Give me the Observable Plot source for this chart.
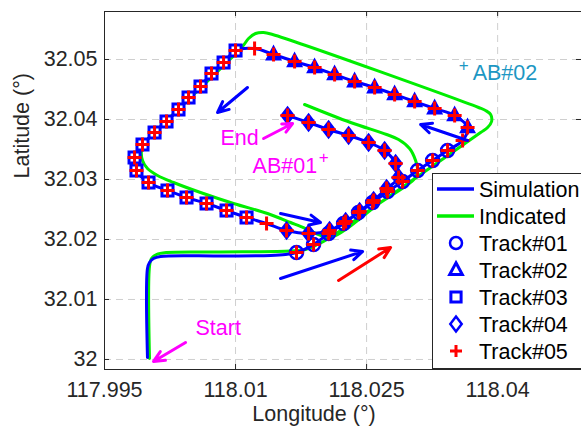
<!DOCTYPE html>
<html><head><meta charset="utf-8">
<script src="https://cdn.jsdelivr.net/npm/d3@7"></script>
<script src="https://cdn.jsdelivr.net/npm/@observablehq/plot@0.6"></script>
<style>html,body{margin:0;padding:0;background:#fff;} #chart{width:581px;height:430px;overflow:hidden;}</style>
</head><body><div id="chart"></div>
<script>
// ---------- axes ----------
const xTicks = [117.995, 118.01, 118.025, 118.04];
const xTickLabels = ["117.995", "118.01", "118.025", "118.04"];
const yTicks = [32, 32.01, 32.02, 32.03, 32.04, 32.05];
const yTickLabels = ["32", "32.01", "32.02", "32.03", "32.04", "32.05"];
const xDomain = [117.995, 118.0496];
const yDomain = [31.99833, 32.058];
const xLabel = "Longitude (°)";
const yLabel = "Latitude (°)";

// ---------- tracks ----------
const track01Lon = [118.01698, 118.01893, 118.02065, 118.02237, 118.02408, 118.02569, 118.02740, 118.02912, 118.03084, 118.03256, 118.03427];
const track01Lat = [32.01783, 32.01917, 32.02100, 32.02267, 32.02450, 32.02617, 32.02800, 32.02967, 32.03150, 32.03317, 32.03483];
const track02Lon = [118.03656, 118.03508, 118.03279, 118.03050, 118.02821, 118.02592, 118.02363, 118.02134, 118.01905, 118.01676, 118.01435];
const track02Lat = [32.03867, 32.04067, 32.04183, 32.04300, 32.04417, 32.04533, 32.04633, 32.04750, 32.04867, 32.04967, 32.05083];
const track03Lon = [118.01000, 118.00863, 118.00725, 118.00599, 118.00462, 118.00347, 118.00210, 118.00073, 117.99935, 117.99844, 117.99866, 118.00004, 118.00221, 118.00439, 118.00668, 118.00897, 118.01126];
const track03Lat = [32.05150, 32.04950, 32.04767, 32.04550, 32.04367, 32.04167, 32.03967, 32.03783, 32.03583, 32.03367, 32.03150, 32.02950, 32.02817, 32.02700, 32.02600, 32.02483, 32.02367];
const track04Lon = [118.01584, 118.01836, 118.02076, 118.02260, 118.02420, 118.02580, 118.02729, 118.02866, 118.02832, 118.02706, 118.02523, 118.02294, 118.02065, 118.01836, 118.01595];
const track04Lat = [32.02150, 32.02100, 32.02150, 32.02300, 32.02467, 32.02650, 32.02850, 32.03033, 32.03267, 32.03483, 32.03617, 32.03733, 32.03833, 32.03950, 32.04067];
// Track#05 points between the other tracks
const handoverLon = [118.03599, 118.01218, 118.01355];
const handoverLat = [32.03650, 32.05183, 32.02267];

// Simulation: straight run from the start before the first track
const simStartLon = [117.99992, 117.99992, 118.00015, 118.00061, 118.00141, 118.00828, 118.01401, 118.01572];
const simStartLat = [32.00033, 32.01517, 32.01617, 32.01683, 32.01717, 32.01725, 32.01733, 32.01750];

// Indicated route
const indicatedLon = [118.00015, 118.00015, 118.00038, 118.00095, 118.00210, 118.00828, 118.01630, 118.01801, 118.01939, 118.02065,
  118.02660, 118.03233, 118.03805, 118.03885, 118.03931, 118.03920, 118.03862, 118.03782,
  118.01424, 118.01321, 118.01229, 118.01149, 118.01080,
  118.00027, 117.99958, 117.99924, 117.99935, 117.99992, 118.00107, 118.00290, 118.00599, 118.00977, 118.01366, 118.01630, 118.01801, 118.01950, 118.02088,
  118.02660, 118.03050, 118.03084, 118.03061, 118.02992, 118.02866, 118.02729, 118.02317, 118.01790];
const indicatedLat = [32.00017, 32.01550, 32.01683, 32.01750, 32.01783, 32.01792, 32.01808, 32.01833, 32.01917, 32.02017,
  32.02617, 32.03200, 32.03783, 32.03867, 32.03967, 32.04083, 32.04150, 32.04200,
  32.05417, 32.05450, 32.05433, 32.05350, 32.05217,
  32.03717, 32.03600, 32.03483, 32.03317, 32.03183, 32.03067, 32.02950, 32.02783, 32.02600, 32.02433, 32.02283, 32.02183, 32.02083, 32.02033,
  32.02617, 32.03017, 32.03150, 32.03317, 32.03517, 32.03667, 32.03750, 32.03950, 32.04250];

// ---------- annotations ----------
const arrowLon1 = [118.01137, 118.03656, 118.01515, 118.01515, 118.02179, 118.01321, 118.00428];
const arrowLat1 = [32.04533, 32.03650, 32.02433, 32.01350, 32.01317, 32.03683, 32.00283];
const arrowLon2 = [118.00794, 118.03118, 118.01973, 118.02454, 118.02775, 118.01653, 118.00061];
const arrowLat2 = [32.04117, 32.03917, 32.02283, 32.01800, 32.01867, 32.03933, 31.99967];
const arrowColors = ["#0000ff", "#0000ff", "#0000ff", "#0000ff", "#ff0000", "#ff00ff", "#ff00ff"];

const noteText = ["End", "AB#01", "AB#02", "Start"];
const noteLon = [118.00828, 118.01195, 118.03714, 118.00542];
const noteLat = [32.03683, 32.03217, 32.04767, 32.00517];
const noteColors = ["#ff00ff", "#ff00ff", "#1d97c3", "#ff00ff"];
const markText = ["+", "+"];
const markLon = [118.02008, 118.03611];
const markLat = [32.03367, 32.04900];
const markColors = ["#ff00ff", "#1d97c3"];

const legendLabels = ["Simulation", "Indicated", "Track#01", "Track#02", "Track#03", "Track#04", "Track#05"];

// ---------- build ----------
const pts = (lon, lat) => lon.map((x, i) => ({x, y: lat[i]}));
const t01 = pts(track01Lon, track01Lat), t02 = pts(track02Lon, track02Lat);
const t03 = pts(track03Lon, track03Lat), t04 = pts(track04Lon, track04Lat);
const hand = pts(handoverLon, handoverLat);
const t05 = [...t01, hand[0], ...t02, hand[1], ...t03, hand[2], ...t04];
const sim = [...pts(simStartLon, simStartLat), ...t05];
const ind = pts(indicatedLon, indicatedLat);
const arrows = arrowLon1.map((x1, i) => ({x1, y1: arrowLat1[i], x2: arrowLon2[i], y2: arrowLat2[i], c: arrowColors[i]}));
const notes = noteText.map((t, i) => ({t, x: noteLon[i], y: noteLat[i], c: noteColors[i]}));
const marks2 = markText.map((t, i) => ({t, x: markLon[i], y: markLat[i], c: markColors[i]}));

const symTri = {draw(c, s){ const r = Math.sqrt(s/Math.PI); c.moveTo(0, -1.2*r); c.lineTo(1.05*r, 0.75*r); c.lineTo(-1.05*r, 0.75*r); c.closePath(); }};
const symSq = {draw(c, s){ const r = Math.sqrt(s/Math.PI)*0.85; c.rect(-r, -r, 2*r, 2*r); }};
const symDia = {draw(c, s){ const r = Math.sqrt(s/Math.PI); c.moveTo(0, -1.25*r); c.lineTo(0.95*r, 0); c.lineTo(0, 1.25*r); c.lineTo(-0.95*r, 0); c.closePath(); }};
const symPlus = {draw(c, s){ const r = Math.sqrt(s/Math.PI); c.moveTo(-r, 0); c.lineTo(r, 0); c.moveTo(0, -r); c.lineTo(0, r); }};
const symCirc = {draw(c, s){ const r = Math.sqrt(s/Math.PI); c.moveTo(r, 0); c.arc(0, 0, r, 0, 2*Math.PI); }};

const W = 581, H = 430, mL = 104, mR = 0, mT = 11, mB = 61;
const plotW = W - mL - mR, plotH = H - mT - mB;
const axisColor = "#262626";
const FS = 21.5;
const xLab = new Map(xTicks.map((t, i) => [t, xTickLabels[i]]));
const yLab = new Map(yTicks.map((t, i) => [t, yTickLabels[i]]));
const font = "'Liberation Sans', Arial, Helvetica, sans-serif";

const svg = Plot.plot({
  width: W, height: H, marginLeft: mL, marginRight: mR, marginTop: mT, marginBottom: mB,
  style: {fontFamily: font, fontSize: FS + "px", color: axisColor, background: "#fff", overflow: "hidden"},
  x: {domain: xDomain}, y: {domain: yDomain}, color: {type: "identity"},
  marks: [
    Plot.ruleX(xTicks.slice(1), {x: d => d, stroke: "#cfcfcf", strokeDasharray: "7,5", strokeWidth: 1}),
    Plot.ruleY(yTicks, {y: d => d, stroke: "#cfcfcf", strokeDasharray: "7,5", strokeWidth: 1}),
    Plot.line(ind, {x: "x", y: "y", stroke: "#00ee00", strokeWidth: 3, curve: "catmull-rom"}),
    Plot.line(sim, {x: "x", y: "y", stroke: "#0000ff", strokeWidth: 3, curve: "catmull-rom"}),
    Plot.dot(t03, {x: "x", y: "y", symbol: symSq, r: 6.5, fill: "#fff", stroke: "#0000ff", strokeWidth: 3}),
    Plot.dot(t02, {x: "x", y: "y", symbol: symTri, r: 6.5, fill: "#0000ff", stroke: "#0000ff", strokeWidth: 2}),
    Plot.dot(t04, {x: "x", y: "y", symbol: symDia, r: 6.5, fill: "#0000ff", stroke: "#0000ff", strokeWidth: 2}),
    Plot.dot(t01, {x: "x", y: "y", symbol: symCirc, r: 6.5, fill: "none", stroke: "#0000ff", strokeWidth: 2.5}),
    Plot.dot(t05, {x: "x", y: "y", symbol: symPlus, r: 7, fill: "none", stroke: "#ff0000", strokeWidth: 3}),
    Plot.arrow(arrows, {x1: "x1", y1: "y1", x2: "x2", y2: "y2", stroke: "c", strokeWidth: 3, headLength: 6, headAngle: 50}),
    Plot.text(notes, {x: "x", y: "y", text: "t", fill: "c", textAnchor: "start", lineAnchor: "middle", fontSize: FS}),
    Plot.text(marks2, {x: "x", y: "y", text: "t", fill: "c", textAnchor: "middle", lineAnchor: "middle", fontSize: 17}),
    // frame
    Plot.ruleX([xDomain[0]], {x: d => d, stroke: axisColor, strokeWidth: 1}),
    Plot.ruleY([yDomain[0], yDomain[1]], {y: d => d, stroke: axisColor, strokeWidth: 1}),
    // inward ticks
    Plot.ruleX(xTicks, {x: d => d, insetTop: plotH - 5, stroke: axisColor}),
    Plot.ruleX(xTicks, {x: d => d, insetBottom: plotH - 5, stroke: axisColor}),
    Plot.ruleY(yTicks, {y: d => d, insetRight: plotW - 5, stroke: axisColor}),
    Plot.ruleY(yTicks, {y: d => d, insetLeft: plotW - 5, stroke: axisColor}),
    Plot.axisX({ticks: xTicks, tickSize: 0, tickPadding: 12, tickFormat: d => xLab.get(d), label: null, fontSize: FS}),
    Plot.axisY({ticks: yTicks, tickSize: 0, tickPadding: 7, tickFormat: d => yLab.get(d), label: null, fontSize: FS}),
    Plot.text([xLabel], {text: d => d, frameAnchor: "bottom", dx: -29, dy: 45, lineAnchor: "middle", fontSize: FS}),
    Plot.text([yLabel], {text: d => d, frameAnchor: "left", rotate: -90, dx: -82, dy: -12, lineAnchor: "middle", fontSize: FS})
  ]
});

// ---------- legend (inside the axes, box corner at 432,173) ----------
const g = d3.select(svg).append("g").attr("font-family", font).attr("font-size", FS).attr("text-anchor", "start");
g.append("rect").attr("x", 432.5).attr("y", 173.5).attr("width", 200).attr("height", 195)
  .attr("fill", "#fff").attr("stroke", axisColor).attr("stroke-width", 1);
const rowY = i => 189 + i * 27;
const legendSpec = [
  {type: "line", color: "#0000ff"},
  {type: "line", color: "#00ee00"},
  {type: "sym", sym: symCirc, r: 6, color: "#0000ff", sw: 2.5},
  {type: "sym", sym: symTri, r: 6, color: "#0000ff", sw: 3},
  {type: "sym", sym: symSq, r: 6, color: "#0000ff", sw: 3},
  {type: "sym", sym: symDia, r: 6, color: "#0000ff", sw: 2.5},
  {type: "sym", sym: symPlus, r: 6, color: "#ff0000", sw: 3}
];
legendSpec.forEach((s, i) => {
  const y = rowY(i);
  if (s.type === "line") {
    g.append("line").attr("x1", 437).attr("x2", 474).attr("y1", y).attr("y2", y)
      .attr("stroke", s.color).attr("stroke-width", 3.5);
  } else {
    const p = d3.path(); s.sym.draw(p, s.r * s.r * Math.PI);
    g.append("path").attr("d", p.toString()).attr("transform", `translate(456,${y})`)
      .attr("fill", "none").attr("stroke", s.color).attr("stroke-width", s.sw);
  }
  g.append("text").attr("x", 479).attr("y", y).attr("dy", "0.35em").attr("text-anchor", "start")
    .attr("fill", "#000").text(legendLabels[i]);
});

document.getElementById("chart").appendChild(svg);
</script></body></html>
